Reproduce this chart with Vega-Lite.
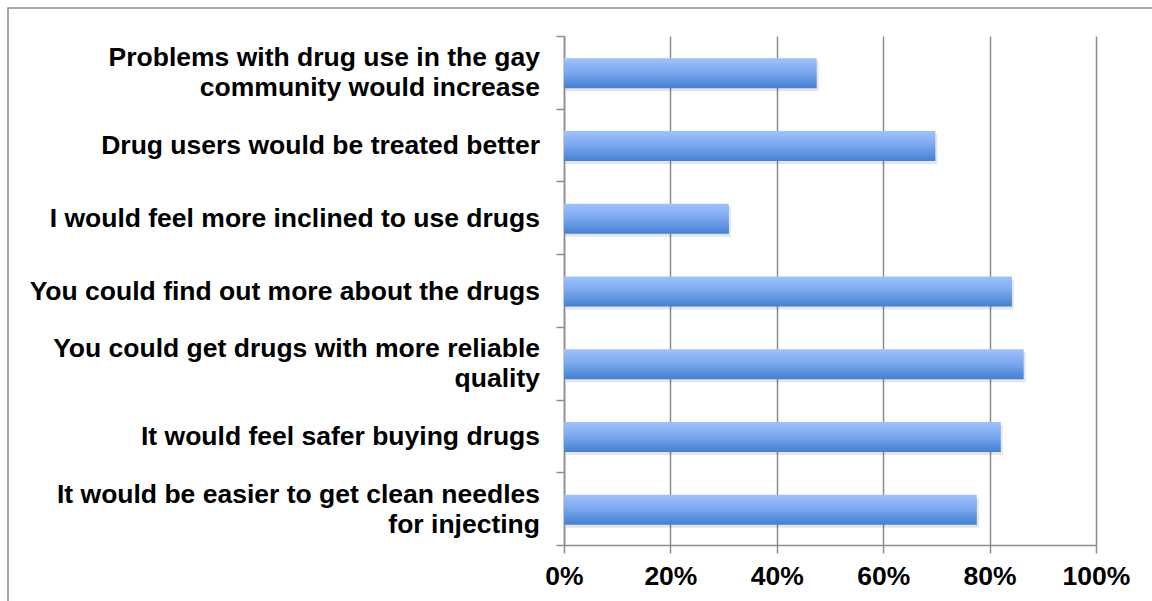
{
  "$schema": "https://vega.github.io/schema/vega-lite/v6.json",
  "width": 1152,
  "height": 600,
  "autosize": {"type": "none"},
  "padding": {"left": 8, "top": 8, "right": 0, "bottom": 0},
  "background": "white",
  "config": {
    "view": {"stroke": "#8c8c8c", "strokeWidth": 1.5},
    "font": "Liberation Sans"
  },
  "data": {
    "values": [
      {"label": "Problems with drug use in the gay|community would increase", "value": 0.475},
      {"label": "Drug users would be treated better", "value": 0.698},
      {"label": "I would feel more inclined to use drugs", "value": 0.31},
      {"label": "You could find out more about the drugs", "value": 0.842},
      {"label": "You could get drugs with more reliable|quality", "value": 0.864},
      {"label": "It would feel safer buying drugs", "value": 0.821},
      {"label": "It would be easier to get clean needles|for injecting", "value": 0.776}
    ]
  },
  "encoding": {
    "y": {
      "field": "label",
      "type": "nominal",
      "sort": null,
      "scale": {"range": [28, 537], "paddingInner": 0, "paddingOuter": 0},
      "axis": {
        "title": null,
        "orient": "left",
        "offset": -556,
        "labels": false,
        "tickBand": "extent",
        "tickSize": 8,
        "tickColor": "#8c8c8c",
        "tickWidth": 1.5,
        "domainColor": "#8c8c8c",
        "domainWidth": 1.5,
        "grid": false
      }
    },
    "x": {
      "field": "value",
      "type": "quantitative",
      "scale": {"domain": [0, 1], "range": [556, 1088], "nice": false},
      "axis": {
        "title": null,
        "orient": "top",
        "offset": -537,
        "values": [0, 0.2, 0.4, 0.6, 0.8, 1],
        "format": ".0%",
        "labelFlush": false,
        "labelFontSize": 26.5,
        "labelFontWeight": "bold",
        "labelColor": "#000000",
        "labelBaseline": "top",
        "labelPadding": -10,
        "tickSize": -8,
        "tickColor": "#8c8c8c",
        "tickWidth": 1.5,
        "domainColor": "#8c8c8c",
        "domainWidth": 1.5,
        "grid": true,
        "gridColor": "#8c8c8c",
        "gridWidth": 1.5
      }
    }
  },
  "layer": [
    {
      "mark": {"type": "bar", "color": "#000000", "opacity": 0.1, "yOffset": 4, "xOffset": 2, "height": 30},
      "encoding": {}
    },
    {
      "mark": {
        "type": "bar",
        "height": 30,
        "yOffset": 1,
        "color": {
          "gradient": "linear",
          "x1": 0, "y1": 0, "x2": 0, "y2": 1,
          "stops": [
            {"offset": 0, "color": "#9ec2fe"},
            {"offset": 0.5, "color": "#78a6ec"},
            {"offset": 1, "color": "#4380d2"}
          ]
        }
      },
      "encoding": {}
    },
    {
      "transform": [{"filter": "indexof(datum.label, '|') < 0"}],
      "mark": {"type": "text", "align": "right", "baseline": "middle", "dx": -24, "dy": 1, "fontSize": 26.5, "fontWeight": "bold", "color": "#000000"},
      "encoding": {"x": {"datum": 0}, "text": {"field": "label"}}
    },
    {
      "transform": [{"filter": "indexof(datum.label, '|') >= 0"}],
      "mark": {"type": "text", "align": "right", "baseline": "middle", "dx": -24, "dy": -14, "lineBreak": "|", "lineHeight": 30, "fontSize": 26.5, "fontWeight": "bold", "color": "#000000"},
      "encoding": {"x": {"datum": 0}, "text": {"field": "label"}}
    }
  ]
}
